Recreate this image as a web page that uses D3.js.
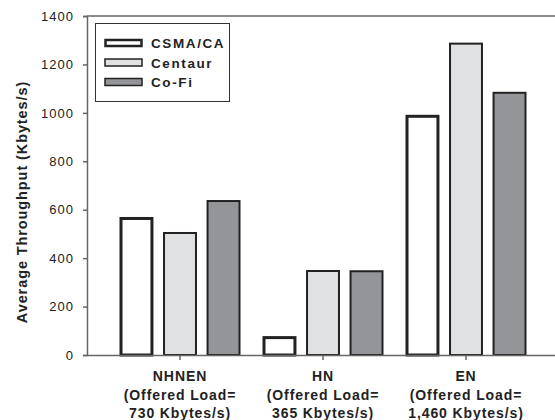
<!DOCTYPE html>
<html>
<head>
<meta charset="utf-8">
<script src="https://cdn.jsdelivr.net/npm/d3@7"></script>
<style>
  body { margin: 0; background: #fff; }
  text { font-family: "Liberation Sans", Arial, sans-serif; }
</style>
</head>
<body>
<div id="chart"></div>
<script>
const groups = ['NHNEN', 'HN', 'EN'];
const groupLoads = ['730 Kbytes/s)', '365 Kbytes/s)', '1,460 Kbytes/s)'];
const seriesNames = ['CSMA/CA', 'Centaur', 'Co-Fi'];
const csmaValues = [570, 78, 992];
const centaurValues = [508, 351, 1290];
const cofiValues = [640, 350, 1087];
const yTicks = [0, 200, 400, 600, 800, 1000, 1200, 1400];

const seriesFill = { 'CSMA/CA': '#ffffff', 'Centaur': '#e0e1e3', 'Co-Fi': '#939598' };
const seriesStrokeW = { 'CSMA/CA': 3, 'Centaur': 2, 'Co-Fi': 2 };

const width = 555, height = 420;
const plotLeft = 87, plotTop = 16, plotBottom = 355;

const svg = d3.select('#chart').append('svg')
  .attr('width', width)
  .attr('height', height);

const x0 = d3.scaleBand().domain(groups).range([108.5, 537.5]).padding(0);
const x1 = d3.scaleBand().domain(seriesNames).range([-60.5, 60.5]).paddingInner(0.22);
const y = d3.scaleLinear().domain([0, 1400]).range([plotBottom, plotTop]);

const rows = groups.map((g, i) => ({
  group: g,
  values: [csmaValues[i], centaurValues[i], cofiValues[i]]
}));

// bars
const gGroups = svg.append('g').selectAll('g')
  .data(rows)
  .enter()
  .append('g')
  .attr('transform', d => `translate(${x0(d.group) + x0.bandwidth() / 2},0)`);

gGroups.selectAll('rect')
  .data(d => d.values.map((v, j) => ({ name: seriesNames[j], value: v })))
  .enter()
  .append('rect')
  .attr('x', d => x1(d.name) + seriesStrokeW[d.name] / 2)
  .attr('width', d => x1.bandwidth() - seriesStrokeW[d.name])
  .attr('y', d => y(d.value) + seriesStrokeW[d.name] / 2)
  .attr('height', d => y(0) - y(d.value) - seriesStrokeW[d.name] / 2)
  .attr('fill', d => seriesFill[d.name])
  .attr('stroke', '#222')
  .attr('stroke-width', d => seriesStrokeW[d.name]);

// frame: left axis, top line, bottom axis
const axisColor = '#666';
svg.append('line').attr('x1', plotLeft).attr('x2', width).attr('y1', plotTop).attr('y2', plotTop)
  .attr('stroke', axisColor).attr('stroke-width', 1.5);

const yAxis = svg.append('g')
  .attr('transform', `translate(${plotLeft},0)`)
  .call(d3.axisLeft(y).tickValues(yTicks).tickSize(4).tickPadding(9).tickFormat(d3.format('d')));
yAxis.select('.domain').attr('stroke', axisColor).attr('stroke-width', 1.5);
yAxis.selectAll('.tick line').attr('stroke', axisColor).attr('stroke-width', 1.5);
yAxis.selectAll('.tick text')
  .attr('font-size', 13)
  .attr('fill', '#222')
  .attr('letter-spacing', '1px');

const xAxis = svg.append('g')
  .attr('transform', `translate(0,${plotBottom})`)
  .call(d3.axisBottom(x0).tickSize(5).tickFormat(''));
xAxis.select('.domain').attr('d', `M${plotLeft},0.5H${width}`).attr('stroke', axisColor).attr('stroke-width', 1.5);
xAxis.selectAll('.tick line').attr('stroke', axisColor).attr('stroke-width', 1.5);

// x category labels
const labelG = svg.append('g').selectAll('text')
  .data(groups)
  .enter()
  .append('text')
  .attr('text-anchor', 'middle')
  .attr('font-size', 14)
  .attr('font-weight', 'bold')
  .attr('fill', '#222')
  .attr('letter-spacing', '0.9px');
labelG.append('tspan').attr('x', d => x0(d) + x0.bandwidth() / 2).attr('y', 381).text(d => d);
labelG.append('tspan').attr('x', d => x0(d) + x0.bandwidth() / 2).attr('y', 399.5).text('(Offered Load=');
labelG.append('tspan').attr('x', d => x0(d) + x0.bandwidth() / 2).attr('y', 418).text((d, i) => groupLoads[i]);

// y title
svg.append('text')
  .attr('transform', 'translate(27,202) rotate(-90)')
  .attr('text-anchor', 'middle')
  .attr('font-size', 14.5)
  .attr('font-weight', 'bold')
  .attr('fill', '#222')
  .attr('letter-spacing', '0.9px')
  .text('Average Throughput (Kbytes/s)');

// legend
const legend = svg.append('g');
legend.append('rect')
  .attr('x', 95.5).attr('y', 23.5).attr('width', 134).attr('height', 78)
  .attr('fill', '#fff').attr('stroke', '#333').attr('stroke-width', 1);
const legItems = legend.selectAll('g.item')
  .data(seriesNames)
  .enter()
  .append('g')
  .attr('class', 'item')
  .attr('transform', (d, i) => `translate(0,${43 + i * 19.5})`);
legItems.append('rect')
  .attr('x', d => 104 + seriesStrokeW[d] / 2)
  .attr('y', d => -4.5 + seriesStrokeW[d] / 2)
  .attr('width', d => 39 - seriesStrokeW[d])
  .attr('height', d => 9 - seriesStrokeW[d])
  .attr('fill', d => seriesFill[d])
  .attr('stroke', '#222')
  .attr('stroke-width', d => seriesStrokeW[d] === 3 ? 2.5 : 1.5);
legItems.append('text')
  .attr('x', 151)
  .attr('y', 5)
  .attr('font-size', 13.5)
  .attr('font-weight', 'bold')
  .attr('fill', '#222')
  .attr('letter-spacing', '1.6px')
  .text(d => d);
</script>
</body>
</html>
